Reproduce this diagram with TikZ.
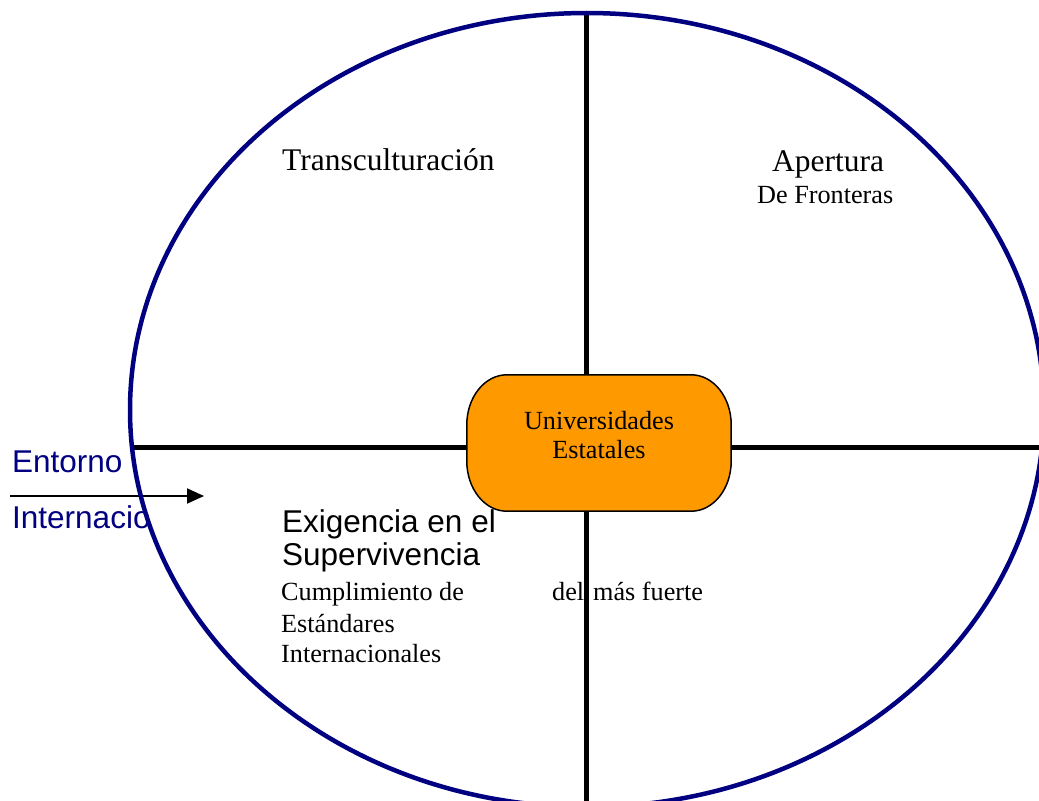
\documentclass[tikz,border=0pt]{standalone}
\usepackage{fontspec}
\setmainfont{Liberation Serif}
\newfontfamily\arialf{Liberation Sans}
\usetikzlibrary{arrows.meta}
\definecolor{navyb}{HTML}{000080}
\definecolor{orangeb}{HTML}{FF9900}
\tikzset{
  big/.style={font=\fontsize{31.5bp}{36bp}\selectfont, inner sep=0pt, anchor=base west},
  small/.style={font=\fontsize{26.2bp}{30bp}\selectfont, inner sep=0pt, anchor=base west},
  sansbig/.style={font=\arialf\fontsize{31.5bp}{36bp}\selectfont, inner sep=0pt, anchor=base west},
  axis/.style={line width=5bp, black},
  boxbase/.style={inner sep=0pt, minimum width=264bp, minimum height=136bp},
  boxshape/.style={draw=black, line width=1.5bp, fill=orangeb},
  boxtext/.style={align=center, inner sep=0pt, font=\fontsize{26.2bp}{30bp}\selectfont}
}
\begin{document}
\begin{tikzpicture}[x=1bp,y=-1bp]
\useasboundingbox (0,0) rectangle (1039,801);
\clip (0,0) rectangle (1039,801);
% axes
\coordinate (vtop) at (586,15);
\coordinate (vbot) at (586,820);
\coordinate (hleft) at (133,447);
\coordinate (hright) at (1045,447);
\draw[axis] (vtop) -- (vbot);
\draw[axis] (hleft) -- (hright);
% texts
\node[big] (t1) at (282,170) {Transculturación};
\node[big] (t2) at (772,171) {Apertura};
\node[small] (t3) at (757,203) {De Fronteras};
\node[sansbig] (e1) at (282,532) {Exigencia en el};
\node[sansbig] (e2) at (282,565) {Supervivencia};
\node[small] (c1) at (281,600) {Cumplimiento de};
\node[small] (c2) at (281,632) {Estándares};
\node[small] (c3) at (281,662) {Internacionales};
\node[small] (d1) at (552,600) {del};
\node[small] (d2) at (593,600) {más fuerte};
\node[sansbig, text=navyb] (en1) at (12,472) {Entorno};
\node[sansbig, text=navyb] (en2) at (12,528) {Internacio};
% arrow
\coordinate (astart) at (10,496);
\coordinate (aend) at (204,496);
\draw[line width=2bp, -{Triangle[length=17bp,width=15bp]}] (astart) -- (aend);
% ellipse
\draw[navyb, line width=4.5bp] (587,410) ellipse [x radius=457, y radius=397];
% centre box
\node[boxbase] (uni) at (599,443) {};
\path[boxshape] ([xshift=40bp]uni.north west) -- ([xshift=-40bp]uni.north east)
  arc[start angle=270, end angle=360, x radius=40, y radius=50]
  -- ([yshift=50bp]uni.south east)
  arc[start angle=0, end angle=90, x radius=40, y radius=50]
  -- ([xshift=40bp]uni.south west)
  arc[start angle=90, end angle=180, x radius=40, y radius=50]
  -- ([yshift=-50bp]uni.north west)
  arc[start angle=180, end angle=270, x radius=40, y radius=50]
  -- cycle;
\node[boxtext] (unitext) at (599,435) {Universidades\\[-1bp]Estatales};
\end{tikzpicture}
\end{document}
